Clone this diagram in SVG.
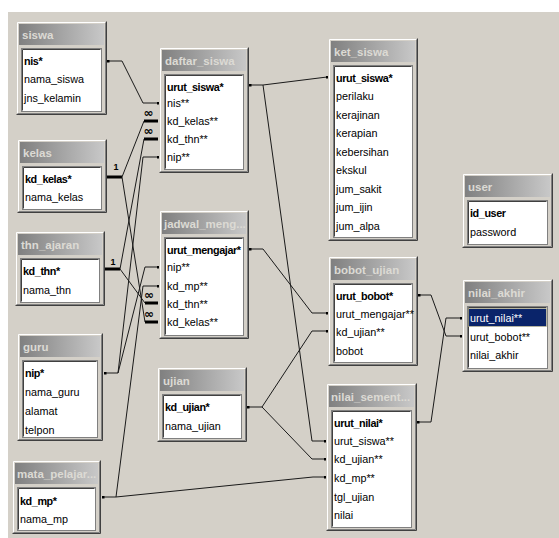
<svg xmlns="http://www.w3.org/2000/svg" width="559" height="538" viewBox="0 0 559 538">
<style>
.o{fill:#d4d0c8}
.hl{fill:none;stroke:#ffffff}
.sh{fill:none;stroke:#404040}
.sh2{fill:none;stroke:#808080}
.t{fill:url(#tg)}
.h{font-family:"Liberation Sans",Arial,sans-serif;font-size:11.5px;font-weight:bold;fill:#dcdad4}
.b{fill:#ffffff;stroke:#808080}
.bi{fill:none;stroke:#404040}
.f{font-family:"Liberation Sans",Arial,sans-serif;font-size:10.8px;fill:#000}
.k{font-family:"Liberation Sans",Arial,sans-serif;font-size:10.8px;font-weight:bold;letter-spacing:-0.4px;fill:#000}
.c{fill:none;stroke:#1a1a1a;stroke-width:1}
.cd{fill:none;stroke:#1a1a1a;stroke-width:1;marker-start:url(#dot);marker-end:url(#dot)}
.ce{fill:none;stroke:#1a1a1a;stroke-width:1;marker-end:url(#dot)}
.tk{fill:none;stroke:#000;stroke-width:3}
.one{font-family:"Liberation Sans",Arial,sans-serif;font-size:9px;font-weight:bold;fill:#000;text-anchor:middle}
.inf{font-family:"DejaVu Sans","Liberation Sans",sans-serif;font-size:12px;font-weight:bold;fill:#000;text-anchor:middle}
</style>
<defs>
<linearGradient id="tg" x1="0" y1="0" x2="1" y2="0">
<stop offset="0" stop-color="#808080"/>
<stop offset="1" stop-color="#c8c8c8"/>
</linearGradient>
<marker id="dot" viewBox="0 0 3 3" refX="1.5" refY="1.5" markerWidth="3" markerHeight="3" markerUnits="userSpaceOnUse">
<rect width="3" height="3" fill="#000"/>
</marker>
</defs>
<rect width="559" height="538" fill="#ffffff"/>
<rect x="8" y="12" width="551" height="526" fill="#d4d0c8"/>

<g id="connectors">
<path class="cd" d="M108,61 H122 L143,103 H158"/>
<path class="cd" d="M105,373 H118 L143,157 H158"/>
<path class="ce" d="M118,373 L145,267 H158"/>
<path class="cd" d="M103,497 H116 L143,286 H158"/>
<path class="ce" d="M116,497 L313,477 H325"/>
<path class="cd" d="M250,85 H263 L327,77"/>
<path class="ce" d="M263,85 L312,441 H325"/>
<path class="cd" d="M250,249 H263 L312,313 H327"/>
<path class="cd" d="M248,407 H262 L312,331 H327"/>
<path class="ce" d="M262,407 L312,459 H325"/>
<path class="cd" d="M419,295 H431 L446,336 H461"/>
<path class="cd" d="M418,422 H431 L446,318 H461"/>
<path class="tk" d="M107,177 H122"/>
<path class="c" d="M122,177 L144,121"/>
<path class="tk" d="M144,121 H158"/>
<path class="c" d="M122,177 L145,322"/>
<path class="tk" d="M145,322 H158"/>
<path class="tk" d="M105,269 H120"/>
<path class="c" d="M120,269 L144,139"/>
<path class="tk" d="M144,139 H158"/>
<path class="c" d="M120,269 L145,303"/>
<path class="tk" d="M145,303 H158"/>
<text class="one" x="116" y="170">1</text>
<text class="one" x="113" y="264.5">1</text>
<text class="inf" x="148.5" y="117">∞</text>
<text class="inf" x="148.5" y="135">∞</text>
<text class="inf" x="149" y="299">∞</text>
<text class="inf" x="149" y="318">∞</text>
</g>

<g id="siswa" transform="translate(16,21)">
<rect class="o" width="91" height="94"/>
<path class="hl" d="M1.5,92.5V1.5H89.5"/>
<path class="sh" d="M0.5,93.5H90.5V0.5"/>
<path class="sh2" d="M1.5,92.5H89.5V1.5"/>
<rect class="t" x="3" y="3" width="85" height="21"/>
<text class="h" x="6" y="18">siswa</text>
<rect class="b" x="5.5" y="27.5" width="80" height="63"/>
<path class="bi" d="M6.5,89.5V28.5H84.5"/>
<text class="k" x="8" y="44">nis*</text>
<text class="f" x="8" y="62.3">nama_siswa</text>
<text class="f" x="8" y="80.6">jns_kelamin</text>
</g>

<g id="kelas" transform="translate(17,139)">
<rect class="o" width="90" height="74"/>
<path class="hl" d="M1.5,72.5V1.5H88.5"/>
<path class="sh" d="M0.5,73.5H89.5V0.5"/>
<path class="sh2" d="M1.5,72.5H88.5V1.5"/>
<rect class="t" x="3" y="3" width="84" height="21"/>
<text class="h" x="6" y="18">kelas</text>
<rect class="b" x="5.5" y="27.5" width="79" height="43"/>
<path class="bi" d="M6.5,69.5V28.5H83.5"/>
<text class="k" x="8" y="44">kd_kelas*</text>
<text class="f" x="8" y="62">nama_kelas</text>
</g>

<g id="thn_ajaran" transform="translate(15,231)">
<rect class="o" width="90" height="75"/>
<path class="hl" d="M1.5,73.5V1.5H88.5"/>
<path class="sh" d="M0.5,74.5H89.5V0.5"/>
<path class="sh2" d="M1.5,73.5H88.5V1.5"/>
<rect class="t" x="3" y="3" width="84" height="21"/>
<text class="h" x="6" y="18">thn_ajaran</text>
<rect class="b" x="5.5" y="27.5" width="79" height="44"/>
<path class="bi" d="M6.5,70.5V28.5H83.5"/>
<text class="k" x="8" y="43.5">kd_thn*</text>
<text class="f" x="8" y="62.5">nama_thn</text>
</g>

<g id="guru" transform="translate(17,333)">
<rect class="o" width="86" height="108"/>
<path class="hl" d="M1.5,106.5V1.5H84.5"/>
<path class="sh" d="M0.5,107.5H85.5V0.5"/>
<path class="sh2" d="M1.5,106.5H84.5V1.5"/>
<rect class="t" x="3" y="3" width="80" height="21"/>
<text class="h" x="6" y="18">guru</text>
<rect class="b" x="5.5" y="27.5" width="75" height="77"/>
<path class="bi" d="M6.5,103.5V28.5H79.5"/>
<text class="k" x="8" y="44">nip*</text>
<text class="f" x="8" y="63">nama_guru</text>
<text class="f" x="8" y="82">alamat</text>
<text class="f" x="8" y="101">telpon</text>
</g>

<g id="mata_pelajaran" transform="translate(12,460)">
<rect class="o" width="89" height="74"/>
<path class="hl" d="M1.5,72.5V1.5H87.5"/>
<path class="sh" d="M0.5,73.5H88.5V0.5"/>
<path class="sh2" d="M1.5,72.5H87.5V1.5"/>
<rect class="t" x="3" y="3" width="83" height="21"/>
<text class="h" x="5" y="18">mata_pelajar...</text>
<rect class="b" x="5.5" y="27.5" width="78" height="43"/>
<path class="bi" d="M6.5,69.5V28.5H82.5"/>
<text class="k" x="8" y="44.5">kd_mp*</text>
<text class="f" x="8" y="63">nama_mp</text>
</g>

<g id="daftar_siswa" transform="translate(159,47)">
<rect class="o" width="90" height="126"/>
<path class="hl" d="M1.5,124.5V1.5H88.5"/>
<path class="sh" d="M0.5,125.5H89.5V0.5"/>
<path class="sh2" d="M1.5,124.5H88.5V1.5"/>
<rect class="t" x="3" y="3" width="84" height="21"/>
<text class="h" x="6" y="18">daftar_siswa</text>
<rect class="b" x="5.5" y="27.5" width="79" height="95"/>
<path class="bi" d="M6.5,121.5V28.5H83.5"/>
<text class="k" x="8" y="43.5">urut_siswa*</text>
<text class="f" x="8" y="60">nis**</text>
<text class="f" x="8" y="78">kd_kelas**</text>
<text class="f" x="8" y="96">kd_thn**</text>
<text class="f" x="8" y="114">nip**</text>
</g>

<g id="jadwal_mengajar" transform="translate(159,210)">
<rect class="o" width="90" height="129"/>
<path class="hl" d="M1.5,127.5V1.5H88.5"/>
<path class="sh" d="M0.5,128.5H89.5V0.5"/>
<path class="sh2" d="M1.5,127.5H88.5V1.5"/>
<rect class="t" x="3" y="3" width="84" height="21"/>
<text class="h" x="5" y="18">jadwal_meng...</text>
<rect class="b" x="5.5" y="27.5" width="79" height="98"/>
<path class="bi" d="M6.5,124.5V28.5H83.5"/>
<text class="k" x="8" y="44">urut_mengajar*</text>
<text class="f" x="8" y="61">nip**</text>
<text class="f" x="8" y="80">kd_mp**</text>
<text class="f" x="8" y="97.5">kd_thn**</text>
<text class="f" x="8" y="116">kd_kelas**</text>
</g>

<g id="ujian" transform="translate(157,367)">
<rect class="o" width="90" height="75"/>
<path class="hl" d="M1.5,73.5V1.5H88.5"/>
<path class="sh" d="M0.5,74.5H89.5V0.5"/>
<path class="sh2" d="M1.5,73.5H88.5V1.5"/>
<rect class="t" x="3" y="3" width="84" height="21"/>
<text class="h" x="6" y="18">ujian</text>
<rect class="b" x="5.5" y="27.5" width="79" height="44"/>
<path class="bi" d="M6.5,70.5V28.5H83.5"/>
<text class="k" x="8" y="44">kd_ujian*</text>
<text class="f" x="8" y="63">nama_ujian</text>
</g>

<g id="ket_siswa" transform="translate(328,38)">
<rect class="o" width="90" height="203"/>
<path class="hl" d="M1.5,201.5V1.5H88.5"/>
<path class="sh" d="M0.5,202.5H89.5V0.5"/>
<path class="sh2" d="M1.5,201.5H88.5V1.5"/>
<rect class="t" x="3" y="3" width="84" height="21"/>
<text class="h" x="6" y="18">ket_siswa</text>
<rect class="b" x="5.5" y="27.5" width="79" height="172"/>
<path class="bi" d="M6.5,198.5V28.5H83.5"/>
<text class="k" x="8" y="43.5">urut_siswa*</text>
<text class="f" x="8" y="62">perilaku</text>
<text class="f" x="8" y="80.5">kerajinan</text>
<text class="f" x="8" y="99">kerapian</text>
<text class="f" x="8" y="117.5">kebersihan</text>
<text class="f" x="8" y="136">ekskul</text>
<text class="f" x="8" y="154.5">jum_sakit</text>
<text class="f" x="8" y="173">jum_ijin</text>
<text class="f" x="8" y="191.5">jum_alpa</text>
</g>

<g id="bobot_ujian" transform="translate(328,256)">
<rect class="o" width="90" height="110"/>
<path class="hl" d="M1.5,108.5V1.5H88.5"/>
<path class="sh" d="M0.5,109.5H89.5V0.5"/>
<path class="sh2" d="M1.5,108.5H88.5V1.5"/>
<rect class="t" x="3" y="3" width="84" height="21"/>
<text class="h" x="6" y="18">bobot_ujian</text>
<rect class="b" x="5.5" y="27.5" width="79" height="79"/>
<path class="bi" d="M6.5,105.5V28.5H83.5"/>
<text class="k" x="8" y="43.5">urut_bobot*</text>
<text class="f" x="8" y="61.5">urut_mengajar**</text>
<text class="f" x="8" y="80">kd_ujian**</text>
<text class="f" x="8" y="98.5">bobot</text>
</g>

<g id="nilai_sementara" transform="translate(326,383)">
<rect class="o" width="91" height="148"/>
<path class="hl" d="M1.5,146.5V1.5H89.5"/>
<path class="sh" d="M0.5,147.5H90.5V0.5"/>
<path class="sh2" d="M1.5,146.5H89.5V1.5"/>
<rect class="t" x="3" y="3" width="85" height="21"/>
<text class="h" x="5" y="18">nilai_sement...</text>
<rect class="b" x="5.5" y="27.5" width="80" height="117"/>
<path class="bi" d="M6.5,143.5V28.5H84.5"/>
<text class="k" x="8" y="43.5">urut_nilai*</text>
<text class="f" x="8" y="62">urut_siswa**</text>
<text class="f" x="8" y="80.3">kd_ujian**</text>
<text class="f" x="8" y="98.6">kd_mp**</text>
<text class="f" x="8" y="117.5">tgl_ujian</text>
<text class="f" x="8" y="136">nilai</text>
</g>

<g id="user" transform="translate(462,173)">
<rect class="o" width="91" height="75"/>
<path class="hl" d="M1.5,73.5V1.5H89.5"/>
<path class="sh" d="M0.5,74.5H90.5V0.5"/>
<path class="sh2" d="M1.5,73.5H89.5V1.5"/>
<rect class="t" x="3" y="3" width="85" height="21"/>
<text class="h" x="6" y="18">user</text>
<rect class="b" x="5.5" y="27.5" width="80" height="44"/>
<path class="bi" d="M6.5,70.5V28.5H84.5"/>
<text class="k" x="8" y="44">id_user</text>
<text class="f" x="8" y="63">password</text>
</g>

<g id="nilai_akhir" transform="translate(462,279)">
<rect class="o" width="91" height="93"/>
<path class="hl" d="M1.5,91.5V1.5H89.5"/>
<path class="sh" d="M0.5,92.5H90.5V0.5"/>
<path class="sh2" d="M1.5,91.5H89.5V1.5"/>
<rect class="t" x="3" y="3" width="85" height="21"/>
<text class="h" x="6" y="18">nilai_akhir</text>
<rect class="b" x="5.5" y="27.5" width="80" height="62"/>
<path class="bi" d="M6.5,88.5V28.5H84.5"/>
<rect x="6.5" y="29.5" width="78" height="18" fill="#0a246a" stroke="#e8d890" stroke-dasharray="1,1"/>
<text class="f" x="8" y="43" fill="#ffffff" style="fill:#ffffff">urut_nilai**</text>
<text class="f" x="8" y="61.5">urut_bobot**</text>
<text class="f" x="8" y="80">nilai_akhir</text>
</g>
</svg>
